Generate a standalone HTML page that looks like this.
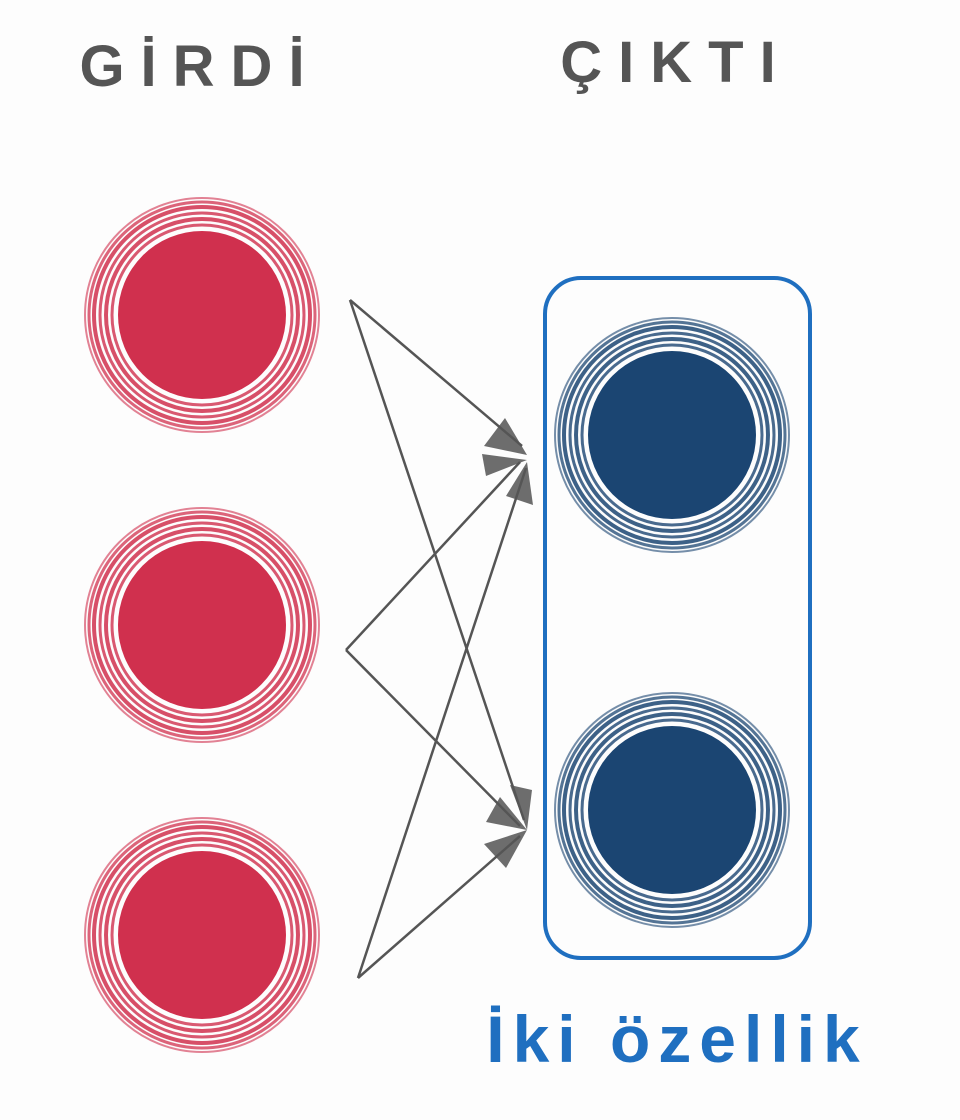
<!DOCTYPE html>
<html><head><meta charset="utf-8"><style>
html,body{margin:0;padding:0;background:#fdfdfd;}
svg{display:block}
</style></head><body>
<svg width="960" height="1120" viewBox="0 0 960 1120" xmlns="http://www.w3.org/2000/svg">
<defs>
<g id="ring">
  <circle r="84" fill="currentColor"/>
  <circle r="90" fill="none" stroke="currentColor" stroke-width="3" opacity=".8"/>
  <circle r="96" fill="none" stroke="currentColor" stroke-width="4" opacity=".85"/>
  <circle r="102" fill="none" stroke="currentColor" stroke-width="3" opacity=".8"/>
  <circle r="108" fill="none" stroke="currentColor" stroke-width="4" opacity=".85"/>
  <circle r="113" fill="none" stroke="currentColor" stroke-width="3" opacity=".75"/>
  <circle r="117" fill="none" stroke="currentColor" stroke-width="2" opacity=".6"/>
</g>
</defs>
<rect width="960" height="1120" fill="#fdfdfd"/>
<text x="200" y="86" text-anchor="middle" font-family="Liberation Sans, sans-serif" font-size="58" font-weight="bold" fill="#555" letter-spacing="16">GİRDİ</text>
<text x="676" y="82" text-anchor="middle" font-family="Liberation Sans, sans-serif" font-size="58" font-weight="bold" fill="#555" letter-spacing="16">ÇIKTI</text>

<g color="#d0304e">
  <use href="#ring" x="202" y="315"/>
  <use href="#ring" x="202" y="625"/>
  <use href="#ring" x="202" y="935"/>
</g>
<g color="#1b4572">
  <use href="#ring" x="672" y="435"/>
  <use href="#ring" x="672" y="810"/>
</g>

<rect x="545" y="278" width="265" height="680" rx="36" fill="none" stroke="#1f6fc0" stroke-width="4"/>

<g stroke="#555" stroke-width="2.5" fill="none">
  <line x1="350" y1="300" x2="522" y2="446"/>
  <line x1="350" y1="300" x2="524" y2="820"/>
  <line x1="346" y1="650" x2="520" y2="462"/>
  <line x1="346" y1="650" x2="520" y2="826"/>
  <line x1="358" y1="978" x2="526" y2="468"/>
  <line x1="358" y1="978" x2="520" y2="836"/>
</g>
<g fill="#555" opacity=".85">
  <polygon points="527,455 484,446 505,418"/>
  <polygon points="527,460 486,476 482,454"/>
  <polygon points="527,462 533,505 506,496"/>
  <polygon points="527,830 510,785 532,790"/>
  <polygon points="527,830 486,822 500,797"/>
  <polygon points="527,830 506,868 484,844"/>
</g>

<text x="677" y="1062" text-anchor="middle" font-family="Liberation Sans, sans-serif" font-size="66" font-weight="bold" fill="#1f6fc0" letter-spacing="8">İki özellik</text>
</svg>
</body></html>
